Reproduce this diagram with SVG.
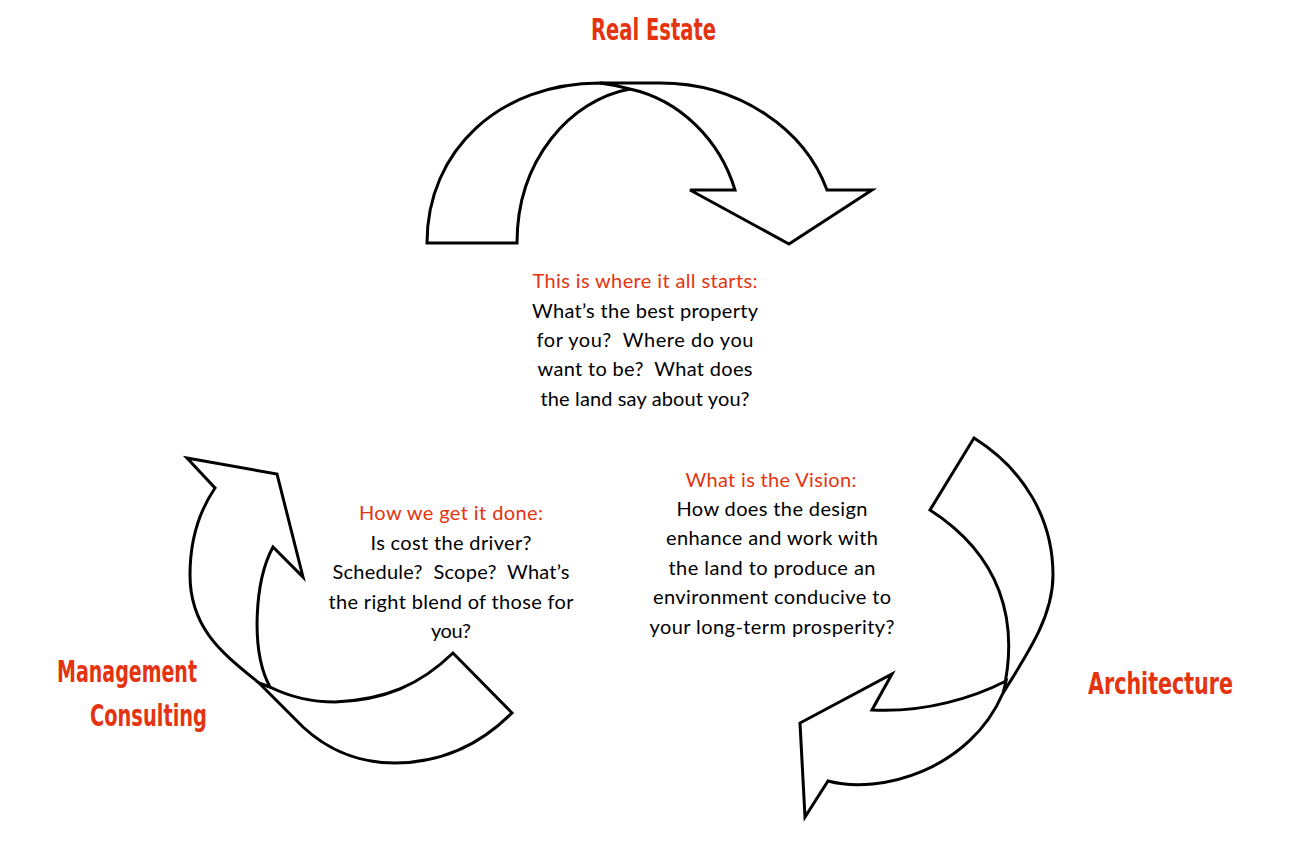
<svg xmlns="http://www.w3.org/2000/svg" width="1300" height="850" viewBox="0 0 1300 850">
<style>
.band{fill:#fff;stroke:#000;stroke-width:3;stroke-linejoin:miter}
.title{font-family:'Liberation Sans Narrow','DejaVu Sans Condensed',sans-serif;font-weight:bold;font-size:31px;fill:#E5330F}
.body{font-family:Lato,'Open Sans',sans-serif;font-size:20px;fill:#000;text-anchor:middle;white-space:pre}
.head{fill:#E5330F}
</style>
<rect width="1300" height="850" fill="#fff"/>
<g id="connectors">
  <g id="arrow-top">
    <path class="band" d="M427,243 C427,150 500,83 600,83 Q620,84 630,89 C570,100 517,160 517,243 Z"/>
    <path class="band" d="M600,83 L660,83 C740,83 805,130 827,190 L872,190 L789,244 L690,190 L735,190 C720,140 680,100 630,89 Q615,85 600,83 Z"/>
  </g>
  <g id="arrow-right">
    <path class="band" d="M974,438 C1025,470 1053,520 1053,575 C1053,615 1030,650 1003,693 C1020,620 1000,555 930,510 Z"/>
    <path class="band" d="M1006,681 C975,697 925,713 872,710 L892,674 L800,723 L805,817 L828,781 C880,795 970,770 1003,693 Z"/>
  </g>
  <g id="arrow-left">
    <path class="band" d="M259,683 L303,727 C330,752 360,763 395,763 C440,763 480,745 512,713 L453,653 C420,685 385,700 335,702 C310,702 290,697 270,687 Z"/>
    <path class="band" d="M187,458 L277,474 L303,577 L273,547 C255,580 250,650 270,687 L259,683 C225,655 190,630 190,575 C190,540 200,510 215,488 Z"/>
  </g>
</g>
<g id="node-real-estate">
  <text class="title" x="591" y="40" textLength="125" lengthAdjust="spacingAndGlyphs">Real Estate</text>
</g>
<g id="node-architecture">
  <text class="title" x="1088" y="694" textLength="145" lengthAdjust="spacingAndGlyphs">Architecture</text>
</g>
<g id="node-management-consulting">
  <text class="title" x="57" y="682" textLength="140" lengthAdjust="spacingAndGlyphs">Management</text>
  <text class="title" x="90" y="726" textLength="117" lengthAdjust="spacingAndGlyphs">Consulting</text>
</g>
<g id="text-real-estate">
  <text class="body head" x="645" y="288" textLength="225">This is where it all starts:</text>
  <text class="body" x="645" y="318" textLength="226">What’s the best property</text>
  <text class="body" x="645" y="347" textLength="217" xml:space="preserve">for you?  Where do you</text>
  <text class="body" x="645" y="376" textLength="215" xml:space="preserve">want to be?  What does</text>
  <text class="body" x="645" y="406" textLength="209">the land say about you?</text>
</g>
<g id="text-management">
  <text class="body head" x="451" y="520" textLength="184">How we get it done:</text>
  <text class="body" x="451" y="550" textLength="161">Is cost the driver?</text>
  <text class="body" x="451" y="579" textLength="237" xml:space="preserve">Schedule?  Scope?  What’s</text>
  <text class="body" x="451" y="609" textLength="245">the right blend of those for</text>
  <text class="body" x="451" y="638" textLength="40">you?</text>
</g>
<g id="text-architecture">
  <text class="body head" x="771" y="487" textLength="171">What is the Vision:</text>
  <text class="body" x="772" y="516" textLength="191">How does the design</text>
  <text class="body" x="772" y="545" textLength="212">enhance and work with</text>
  <text class="body" x="772" y="575" textLength="207">the land to produce an</text>
  <text class="body" x="772" y="604" textLength="238">environment conducive to</text>
  <text class="body" x="772" y="634" textLength="245">your long-term prosperity?</text>
</g>
</svg>
